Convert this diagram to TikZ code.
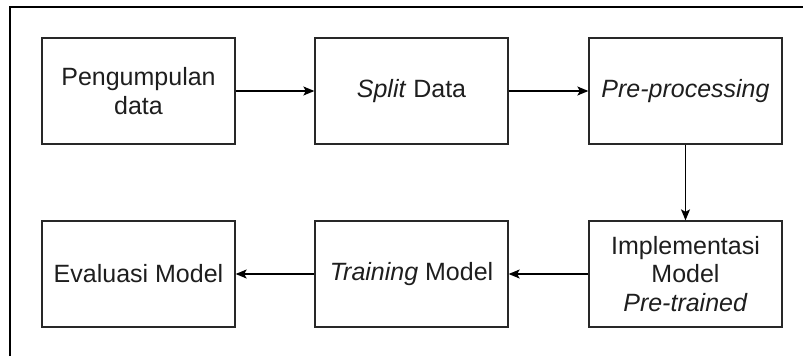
\documentclass[tikz,border=0pt]{standalone}
\usepackage{fontspec}
\setmainfont{Liberation Sans}
\usepackage{tikz}
\usetikzlibrary{arrows.meta}
\usepackage{xcolor}

\definecolor{garis}{RGB}{40,40,40}
\definecolor{teks}{RGB}{30,30,30}

\tikzset{
  proses/.style={draw=garis, line width=1.3pt, minimum width=193pt, minimum height=106pt,
    inner sep=0pt, align=center, text=teks, font=\fontsize{25}{28.5}\selectfont},
  alur/.style={draw=black, line width=1.3pt, -{Stealth[length=11pt,width=9pt,inset=2.5pt]}}
}

\begin{document}
\begin{tikzpicture}[x=1pt, y=-1pt]
	\useasboundingbox (0,0) rectangle (803,356);
	% bingkai luar
	\draw[black, line width=1.8pt] (10,356)--(10,7)--(803,7);
	% baris atas
	\node[proses] (kumpul) at (138.5, 91) {Pengumpulan\\data};
	\node[proses] (split)  at (411.5, 91) {\textit{Split} Data};
	\node[proses] (prepro) at (685.5, 91) {\textit{Pre-processing}};
	% baris bawah
	\node[proses] (implem) at (685.5, 274) {Implementasi\\Model\\\textit{Pre-trained}};
	\node[proses] (latih)  at (411.5, 274) {\textit{Training} Model};
	\node[proses] (evalu)  at (138.5, 274) {Evaluasi Model};
	% panah
	\draw[alur] (kumpul)--(split);
	\draw[alur] (split)--(prepro);
	\draw[alur] (prepro)--(implem);
	\draw[alur] (implem)--(latih);
	\draw[alur] (latih)--(evalu);
\end{tikzpicture}
\end{document}
